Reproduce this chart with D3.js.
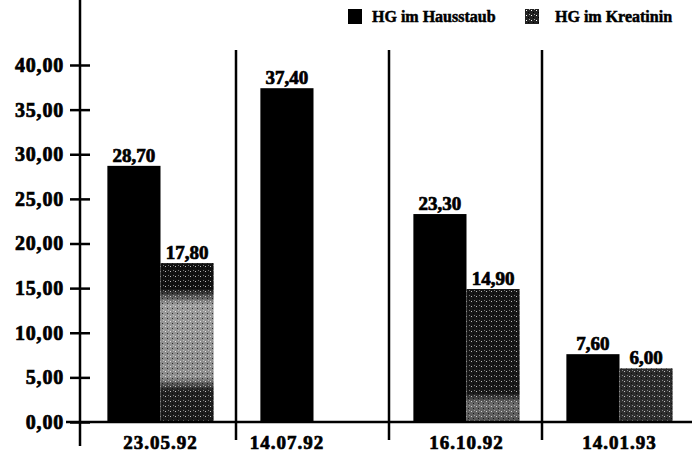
<!DOCTYPE html>
<html lang="de">
<head>
  <meta charset="UTF-8">
  <title>HG im Hausstaub / Kreatinin</title>
  <script src="https://d3js.org/d3.v7.min.js"></script>
  <style>
    body { margin: 0; background: #fff; }
    text { font-family: "Liberation Serif", "DejaVu Serif", serif; font-weight: bold; fill: #000; }
  </style>
</head>
<body>
  <script>
    // Data
    const categories = ["23.05.92", "14.07.92", "16.10.92", "14.01.93"];
    const seriesNames = ["HG im Hausstaub", "HG im Kreatinin"];
    const hausstaub = [28.70, 37.40, 23.30, 7.60];
    const kreatinin = [17.80, null, 14.90, 6.00];
    const yTicks = [0, 5, 10, 15, 20, 25, 30, 35, 40];

    // scan shading of the second series (top -> bottom), per category
    const shade = [
      [[0, "#111"], [0.16, "#111"], [0.26, "#9a9a9a"], [0.72, "#8c8c8c"], [0.8, "#222"], [1, "#1a1a1a"]],
      [[0, "#111"], [1, "#111"]],
      [[0, "#151515"], [0.78, "#181818"], [0.86, "#6a6a6a"], [1, "#555"]],
      [[0, "#2a2a2a"], [1, "#303030"]]
    ];

    const W = 692, H = 459;
    const svg = d3.select("body").append("svg")
      .attr("width", W).attr("height", H);

    const defs = svg.append("defs");
    const pat = defs.append("pattern")
      .attr("id", "speck").attr("width", 5).attr("height", 5)
      .attr("patternUnits", "userSpaceOnUse");
    pat.append("rect").attr("x", 1).attr("y", 1).attr("width", 1).attr("height", 1).attr("fill", "#fff");
    pat.append("rect").attr("x", 3).attr("y", 3).attr("width", 1).attr("height", 1).attr("fill", "#000");
    pat.append("rect").attr("x", 4).attr("y", 0).attr("width", 1).attr("height", 1).attr("fill", "#fff").attr("opacity", 0.6);

    shade.forEach((stops, i) => {
      const g = defs.append("linearGradient").attr("id", "grad" + i)
        .attr("x1", 0).attr("y1", 0).attr("x2", 0).attr("y2", 1);
      stops.forEach(s => g.append("stop").attr("offset", s[0]).attr("stop-color", s[1]));
    });

    const rows = categories.map((c, i) => ({ cat: c, i, values: [hausstaub[i], kreatinin[i]] }));

    // scales
    const x0 = d3.scaleBand().domain(categories).range([84, 696]).paddingInner(0);
    const x1 = d3.scaleBand().domain(seriesNames).range([0, x0.bandwidth()]).paddingInner(0).paddingOuter(0.44);
    const y = d3.scaleLinear().domain([0, 40]).range([422, 65]);

    const fmt = v => d3.format(".2f")(v).replace(".", ",");

    // separators between dates
    svg.append("g").selectAll("line")
      .data(categories.slice(1))
      .join("line")
      .attr("x1", d => x0(d) - 1).attr("x2", d => x0(d) - 1)
      .attr("y1", 50).attr("y2", 440)
      .attr("stroke", "#000").attr("stroke-width", 2.5);

    // bars
    const groups = svg.append("g").selectAll("g")
      .data(rows).join("g")
      .attr("transform", d => `translate(${x0(d.cat)},0)`);

    groups.each(function (d) {
      const g = d3.select(this);
      d.values.forEach((v, k) => {
        if (v == null) return;
        const bx = x1(seriesNames[k]), bw = x1.bandwidth();
        g.append("rect")
          .attr("x", bx).attr("y", y(v))
          .attr("width", bw).attr("height", y(0) - y(v))
          .attr("fill", k === 0 ? "#000" : `url(#grad${d.i})`);
        if (k === 1) {
          g.append("rect")
            .attr("x", bx).attr("y", y(v))
            .attr("width", bw).attr("height", y(0) - y(v))
            .attr("fill", "url(#speck)").attr("opacity", 0.7);
        }
        g.append("text")
          .attr("x", bx + bw / 2).attr("y", y(v) - 4)
          .attr("text-anchor", "middle")
          .attr("font-size", 19)
          .attr("stroke", "#000").attr("stroke-width", 0.7)
          .text(fmt(v));
      });
      // date label under the drawn bars
      const present = d.values.map((v, k) => v == null ? null : x1(seriesNames[k]) + x1.bandwidth() / 2).filter(c => c != null);
      g.append("text")
        .attr("x", d3.mean(present)).attr("y", 449)
        .attr("text-anchor", "middle")
        .attr("font-size", 19).attr("letter-spacing", 1)
        .attr("stroke", "#000").attr("stroke-width", 0.7)
        .text(d.cat);
    });

    // baseline
    svg.append("line")
      .attr("x1", 66).attr("x2", W).attr("y1", y(0)).attr("y2", y(0))
      .attr("stroke", "#000").attr("stroke-width", 2.5);

    // y axis
    const yAxis = d3.axisLeft(y).tickValues(yTicks).tickFormat(fmt).tickSize(10).tickPadding(6);
    const ya = svg.append("g").attr("transform", "translate(80,0)").call(yAxis);
    ya.select(".domain").remove();
    ya.selectAll(".tick line").attr("x1", -10).attr("x2", 10).attr("stroke-width", 2.5);
    ya.selectAll(".tick text")
      .attr("x", -16)
      .attr("font-size", 20).attr("font-family", null).attr("letter-spacing", 0.8)
      .attr("stroke", "#000").attr("stroke-width", 0.7);
    ya.append("line").attr("x1", 0).attr("x2", 0).attr("y1", 0).attr("y2", 446)
      .attr("stroke", "#000").attr("stroke-width", 2.5);

    // legend
    const legendX = [348, 525];
    const legend = svg.append("g").selectAll("g")
      .data(seriesNames).join("g")
      .attr("transform", (d, i) => `translate(${legendX[i]},9)`);
    legend.append("rect")
      .attr("width", 14).attr("height", 15)
      .attr("fill", (d, i) => i === 0 ? "#000" : "#222");
    legend.filter((d, i) => i === 1).append("rect")
      .attr("width", 14).attr("height", 15).attr("fill", "url(#speck)");
    legend.append("text")
      .attr("x", (d, i) => i === 0 ? 24 : 30).attr("y", 13)
      .attr("font-size", 16)
      .attr("stroke", "#000").attr("stroke-width", 0.5)
      .text(d => d);
  </script>
</body>
</html>
